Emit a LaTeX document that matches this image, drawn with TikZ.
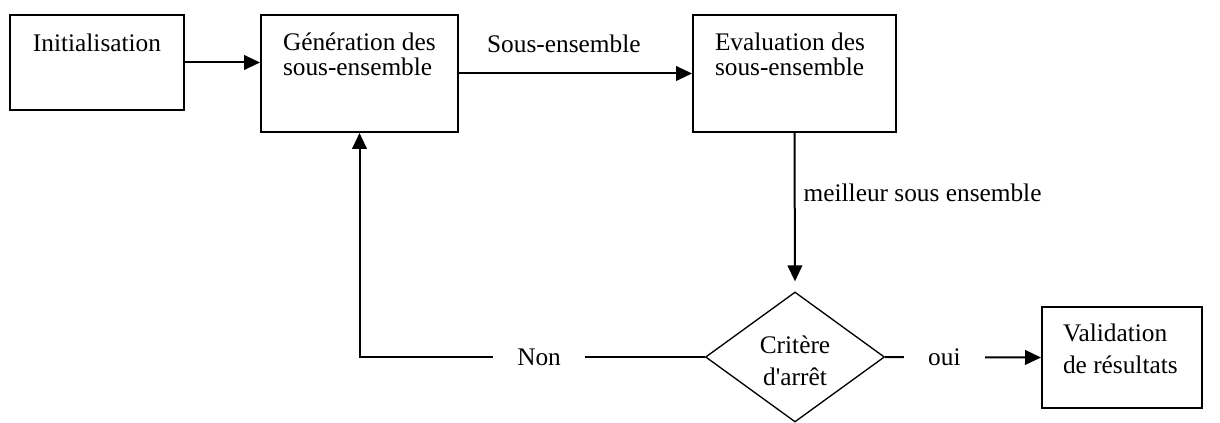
\documentclass[tikz,border=0pt]{standalone}
\usepackage{fontspec}
\setmainfont{Liberation Serif}
\usetikzlibrary{shapes.geometric,arrows.meta}

\begin{document}
\begin{tikzpicture}[
        x=0.75pt, y=-0.75pt,
        font=\fontsize{19}{19}\selectfont,
        block/.style={draw,line width=1.5pt,inner sep=0pt},
        title/.style={anchor=north west,align=left,inner sep=0pt,xshift=16.5pt,yshift=-13.5pt},
        gap/.style={fill=white,inner xsep=18pt,inner ysep=2pt},
        arrow/.style={-{Triangle[length=12pt,width=11pt]}},
        every path/.append style={line width=1.5pt}
    ]
        \useasboundingbox (0,0) rectangle (1220,423);

        \node [block,minimum width=130.5pt,minimum height=71.25pt,
               label={[anchor=north,inner sep=0pt,yshift=-14pt]north:Initialisation}]
               (init) at (97,62.5) {};
        \node [block,minimum width=147.75pt,minimum height=87.75pt,
               label={[title]north west:Génération des\\sous-ensemble}]
               (gen) at (359.5,73.5) {};
        \node [block,minimum width=152.25pt,minimum height=87.75pt,
               label={[title]north west:Evaluation des\\sous-ensemble}]
               (eval) at (794.5,73.5) {};
        \node [draw,diamond,line width=1pt,aspect=1.38,inner sep=0pt,
               minimum width=134.25pt,minimum height=97.5pt]
               (crit) at (795,357) {};
        \node [align=center,inner sep=0pt,yshift=-3pt] at (crit.center)
               {Critère\\[5pt]d\textquotesingle arrêt};
        \node [block,minimum width=120pt,minimum height=75.75pt,
               label={[title,xshift=-0.75pt,yshift=0.5pt]north west:Validation\\[5pt]de résultats}]
               (valid) at (1122,357.5) {};

        \draw [arrow] (init.east) -- (init.east -| gen.west);
        \draw [arrow] (gen.east) -- node[pos=0.45,above=15pt,inner sep=0pt]{Sous-ensemble} (eval.west);
        \draw [arrow,shorten >=7.5pt] (eval.south) -- node[pos=0.375,right=6pt,inner sep=0pt]{meilleur sous ensemble} (crit.north);
        \draw [arrow] (crit.east) -- node[gap,pos=0.38]{oui} (valid.west);
        \draw [arrow] (crit.west) -- node[gap,pos=0.48]{Non} (gen.south |- crit.west) -- (gen.south);
    \end{tikzpicture}
\end{document}
